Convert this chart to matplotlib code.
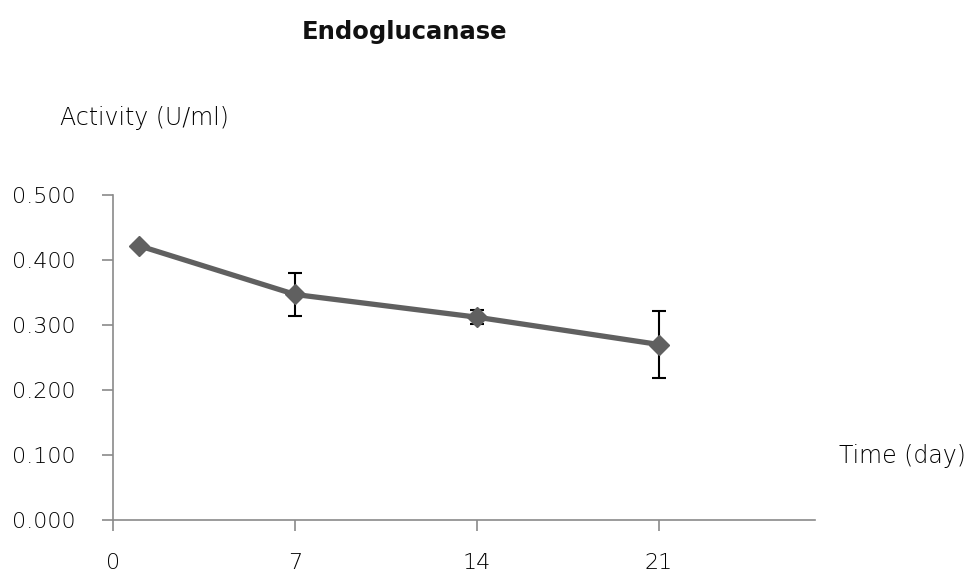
import matplotlib
matplotlib.use("Agg")
import matplotlib.pyplot as plt

# Endoglucanase activity over time
days = [1, 7, 14, 21]
activity = [0.422, 0.347, 0.312, 0.270]
activity_err = [0.002, 0.033, 0.011, 0.051]
x_ticks = [0, 7, 14, 21]
y_ticks = [0.0, 0.1, 0.2, 0.3, 0.4, 0.5]

plt.rcParams['font.family'] = ['DejaVu Sans']

fig = plt.figure(figsize=(9.73, 5.79), dpi=100)
ax = fig.add_axes([0.1161, 0.1019, 0.7215, 0.5613])

line_color = '#606060'
axis_color = '#8a8a8a'
text_color = '#000000'

ax.errorbar(days, activity, yerr=activity_err, fmt='none', ecolor='black',
            elinewidth=1.5, capsize=5, capthick=1.5, zorder=2)
ax.plot(days, activity, color=line_color, linewidth=3.8, marker='D',
        markersize=10, markerfacecolor=line_color, markeredgecolor=line_color,
        zorder=3)

ax.set_xlim(0, 27)
ax.set_ylim(0, 0.5)
ax.set_xticks(x_ticks)
ax.set_xticklabels([str(v) for v in x_ticks])
ax.set_yticks(y_ticks)
ax.set_yticklabels([f"{v:.3f}" for v in y_ticks])

for side in ('top', 'right'):
    ax.spines[side].set_visible(False)
for side in ('left', 'bottom'):
    ax.spines[side].set_color(axis_color)
    ax.spines[side].set_linewidth(1.2)

ax.tick_params(axis='both', direction='out', length=8, width=1.2,
               color=axis_color, labelsize=16, labelcolor=text_color)
ax.tick_params(axis='y', pad=19)
ax.tick_params(axis='x', pad=16)
for lab in ax.get_xticklabels() + ax.get_yticklabels():
    lab.set_fontweight('light')

fig.text(0.416, 0.945, 'Endoglucanase', ha='center', va='center',
         fontsize=17.5, fontweight='bold', color='#111111')
fig.text(0.062, 0.796, 'Activity (U/ml)', ha='left', va='center',
         fontsize=17, fontweight='light', color=text_color)
fig.text(0.862, 0.212, 'Time (day)', ha='left', va='center',
         fontsize=17, fontweight='light', color=text_color)

fig.savefig('out.png', dpi=100)
